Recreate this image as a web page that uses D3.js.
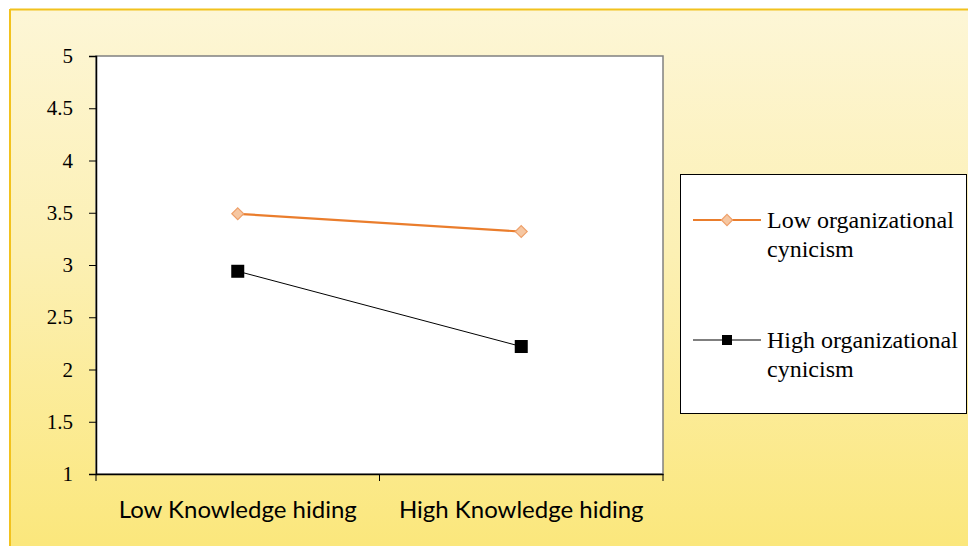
<!DOCTYPE html>
<html>
<head>
<meta charset="utf-8">
<script src="https://cdn.jsdelivr.net/npm/d3@7"></script>
<style>
  body { margin: 0; background: #fff; }
  svg { display: block; }
</style>
</head>
<body>
<svg id="chart" width="968" height="546"></svg>
<script>
// data
let categories = ["Low Knowledge hiding", "High Knowledge hiding"];
let seriesNames = ["Low organizational cynicism", "High organizational cynicism"];
let lowCynicism = [3.49, 3.32];
let highCynicism = [2.94, 2.22];
let yTicks = [1, 1.5, 2, 2.5, 3, 3.5, 4, 4.5, 5];

let width = 968, height = 546;
let plot = { left: 96, top: 56, right: 663, bottom: 474 };

let svg = d3.select("#chart");
let defs = svg.append("defs");

// yellow slide-like background
let grad = defs.append("linearGradient")
    .attr("id", "bg")
    .attr("x1", 0).attr("y1", 0).attr("x2", 0).attr("y2", 1);
grad.append("stop").attr("offset", "0%").attr("stop-color", "#fdf6d6");
grad.append("stop").attr("offset", "45%").attr("stop-color", "#fcf0b4");
grad.append("stop").attr("offset", "100%").attr("stop-color", "#fbe77c");

svg.append("rect")
    .attr("x", 10).attr("y", 10)
    .attr("width", width - 10).attr("height", height - 10)
    .attr("fill", "url(#bg)");
svg.append("line")
    .attr("x1", 10).attr("x2", width).attr("y1", 9.5).attr("y2", 9.5)
    .attr("stroke", "#f2c21e").attr("stroke-width", 2);
svg.append("line")
    .attr("x1", 10).attr("x2", 10).attr("y1", 9).attr("y2", height)
    .attr("stroke", "#f2c21e").attr("stroke-width", 2);

// plot area
svg.append("rect")
    .attr("x", plot.left).attr("y", plot.top)
    .attr("width", plot.right - plot.left).attr("height", plot.bottom - plot.top)
    .attr("fill", "#ffffff")
    .attr("stroke", "#808080")
    .attr("stroke-width", 1.5);

let xScale = d3.scaleBand()
    .domain(categories)
    .range([plot.left, plot.right]);

let yScale = d3.scaleLinear()
    .domain([1, 5])
    .range([plot.bottom, plot.top]);

// y axis
let yAxis = svg.append("g")
    .attr("transform", "translate(" + plot.left + ",0)")
    .call(d3.axisLeft(yScale).tickValues(yTicks).tickSize(7).tickPadding(16)
        .tickFormat(d3.format("")));
yAxis.select(".domain").attr("stroke", "#000").attr("stroke-width", 1.5);
yAxis.selectAll(".tick line").attr("stroke", "#000");
yAxis.selectAll("text")
    .style("font-family", "'Liberation Serif', 'Times New Roman', serif")
    .style("font-size", "21px")
    .style("fill", "#000");

// x axis, ticks on category boundaries
let xAxis = svg.append("g")
    .attr("transform", "translate(0," + plot.bottom + ")")
    .call(d3.axisBottom(xScale).tickSize(0).tickPadding(27));
xAxis.select(".domain").attr("stroke", "#000").attr("stroke-width", 1.5);
xAxis.selectAll("text")
    .style("font-family", "Lato, 'Open Sans', sans-serif")
    .style("font-size", "24px")
    .style("fill", "#000");
let boundaries = categories.map(d => xScale(d)).concat([xScale.range()[1]]);
xAxis.selectAll(".bound")
    .data(boundaries)
    .enter()
    .append("line")
    .attr("x1", d => d).attr("x2", d => d)
    .attr("y1", 0).attr("y2", 7)
    .attr("stroke", "#000");

let xc = d => xScale(d) + xScale.bandwidth() / 2;
let line = d3.line()
    .x((d, i) => xc(categories[i]))
    .y(d => yScale(d));

// low cynicism series (orange, diamonds)
svg.append("path")
    .datum(lowCynicism)
    .attr("d", line)
    .attr("fill", "none")
    .attr("stroke", "#ea7d2c")
    .attr("stroke-width", 2.2);
svg.selectAll(".lowPts")
    .data(lowCynicism)
    .enter()
    .append("path")
    .attr("d", d3.symbol(d3.symbolDiamond2, 90))
    .attr("transform", (d, i) => "translate(" + xc(categories[i]) + "," + yScale(d) + ")")
    .attr("fill", "#f6c7a2")
    .attr("stroke", "#eea06a")
    .attr("stroke-width", 1.2);

// high cynicism series (black, squares)
svg.append("path")
    .datum(highCynicism)
    .attr("d", line)
    .attr("fill", "none")
    .attr("stroke", "#000")
    .attr("stroke-width", 1);
svg.selectAll(".highPts")
    .data(highCynicism)
    .enter()
    .append("rect")
    .attr("x", (d, i) => xc(categories[i]) - 6.5)
    .attr("y", d => yScale(d) - 6.5)
    .attr("width", 13).attr("height", 13)
    .attr("fill", "#000");

// legend
let legend = svg.append("g");
legend.append("rect")
    .attr("x", 680.5).attr("y", 174.5)
    .attr("width", 286).attr("height", 239)
    .attr("fill", "#fff")
    .attr("stroke", "#000")
    .attr("stroke-width", 1);

let legendItems = [
    { name: seriesNames[0], y: 220, color: "#ea7d2c", width: 2.2, marker: "diamond" },
    { name: seriesNames[1], y: 340, color: "#000", width: 1.2, marker: "square" }
];
legendItems.forEach(function(item) {
    legend.append("line")
        .attr("x1", 693).attr("x2", 761)
        .attr("y1", item.y).attr("y2", item.y)
        .attr("stroke", item.color)
        .attr("stroke-width", item.width);
    if (item.marker === "diamond") {
        legend.append("path")
            .attr("d", d3.symbol(d3.symbolDiamond2, 80))
            .attr("transform", "translate(727," + item.y + ")")
            .attr("fill", "#f6c7a2")
            .attr("stroke", "#eea06a")
            .attr("stroke-width", 1.2);
    } else {
        legend.append("rect")
            .attr("x", 722).attr("y", item.y - 5)
            .attr("width", 10).attr("height", 10)
            .attr("fill", "#000");
    }
    let words = item.name.split(" ");
    let text = legend.append("text")
        .attr("x", 767)
        .attr("y", item.y + 8)
        .style("font-family", "'Liberation Serif', 'Times New Roman', serif")
        .style("font-size", "24px")
        .style("fill", "#000");
    text.append("tspan").attr("x", 767).text(words.slice(0, 2).join(" "));
    text.append("tspan").attr("x", 767).attr("dy", 29).text(words.slice(2).join(" "));
});
</script>
</body>
</html>
